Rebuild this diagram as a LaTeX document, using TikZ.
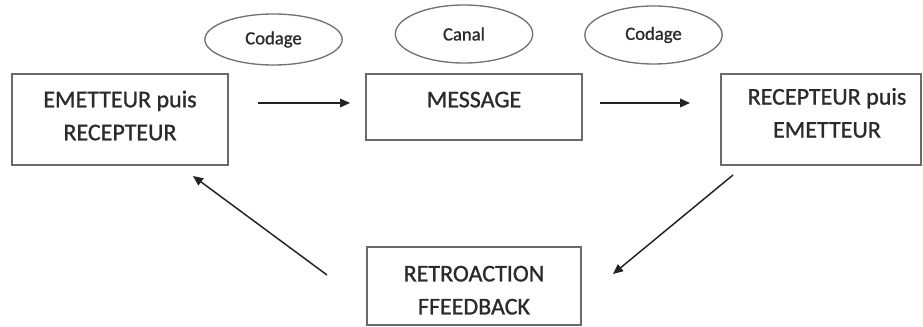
\documentclass[tikz,border=0pt]{standalone}
\usepackage{fontspec}
\setmainfont[FakeBold=1]{Carlito}
\usetikzlibrary{arrows.meta,shapes.geometric,calc}
\definecolor{txt}{HTML}{2B2B2B}
\definecolor{boxline}{HTML}{6A6A6A}
\definecolor{ovalline}{HTML}{727272}
\definecolor{arrline}{HTML}{222222}
\begin{document}
\begin{tikzpicture}[x=0.75pt,y=-0.75pt,
  box/.style={draw=boxline, line width=1.2pt, rectangle, inner sep=0pt, align=center, text=txt,
    font=\fontsize{18}{24.75}\selectfont},
  oval/.style={draw=ovalline, line width=1pt, ellipse, inner sep=0pt, text=txt,
    minimum width=103pt, font=\fontsize{14}{16}\selectfont},
  arr/.style={draw=arrline, line width=1.1pt, -{Triangle[length=7.5pt,width=6.5pt]}}]
\useasboundingbox (0,0) rectangle (923,327);
% boxes
\node[box, minimum width=162pt, minimum height=68.25pt, text depth=6pt] (em) at (120,119.5) {EMETTEUR puis\\RECEPTEUR};
\node[box, minimum width=162pt, text height=25pt, text depth=24.5pt] (msg) at (474,107) {MESSAGE};
\node[box, minimum width=150pt, minimum height=68.25pt, text depth=10pt] (rec) at (821,119.5) {\hspace*{9pt}RECEPTEUR puis\\\hspace*{9pt}EMETTEUR};
\node[box, minimum width=160.5pt, minimum height=58.5pt] (ret) at (474,286) {\rule{0pt}{18pt}RETROACTION\\FFEEDBACK};
% ovals
\node[oval, minimum height=38.25pt] (cod1) at (273.5,39.5) {Codage};
\node[oval, minimum height=43.5pt] (canal) at (464,34) {Canal};
\node[oval, minimum height=43.5pt] (cod2) at (653.5,35) {Codage};
% connector ends
\coordinate (a1s) at (258,103);
\coordinate (a1e) at (350,103);
\coordinate (a2s) at (600,103);
\coordinate (a2e) at (690,103);
\coordinate (a3s) at (733,175);
\coordinate (a3e) at (613,274);
\coordinate (a4s) at (327,275);
\coordinate (a4e) at (193,176);
\draw[arr] (a1s) -- (a1e);
\draw[arr] (a2s) -- (a2e);
\draw[arr] (a3s) -- (a3e);
\draw[arr] (a4s) -- (a4e);
\end{tikzpicture}
\end{document}
